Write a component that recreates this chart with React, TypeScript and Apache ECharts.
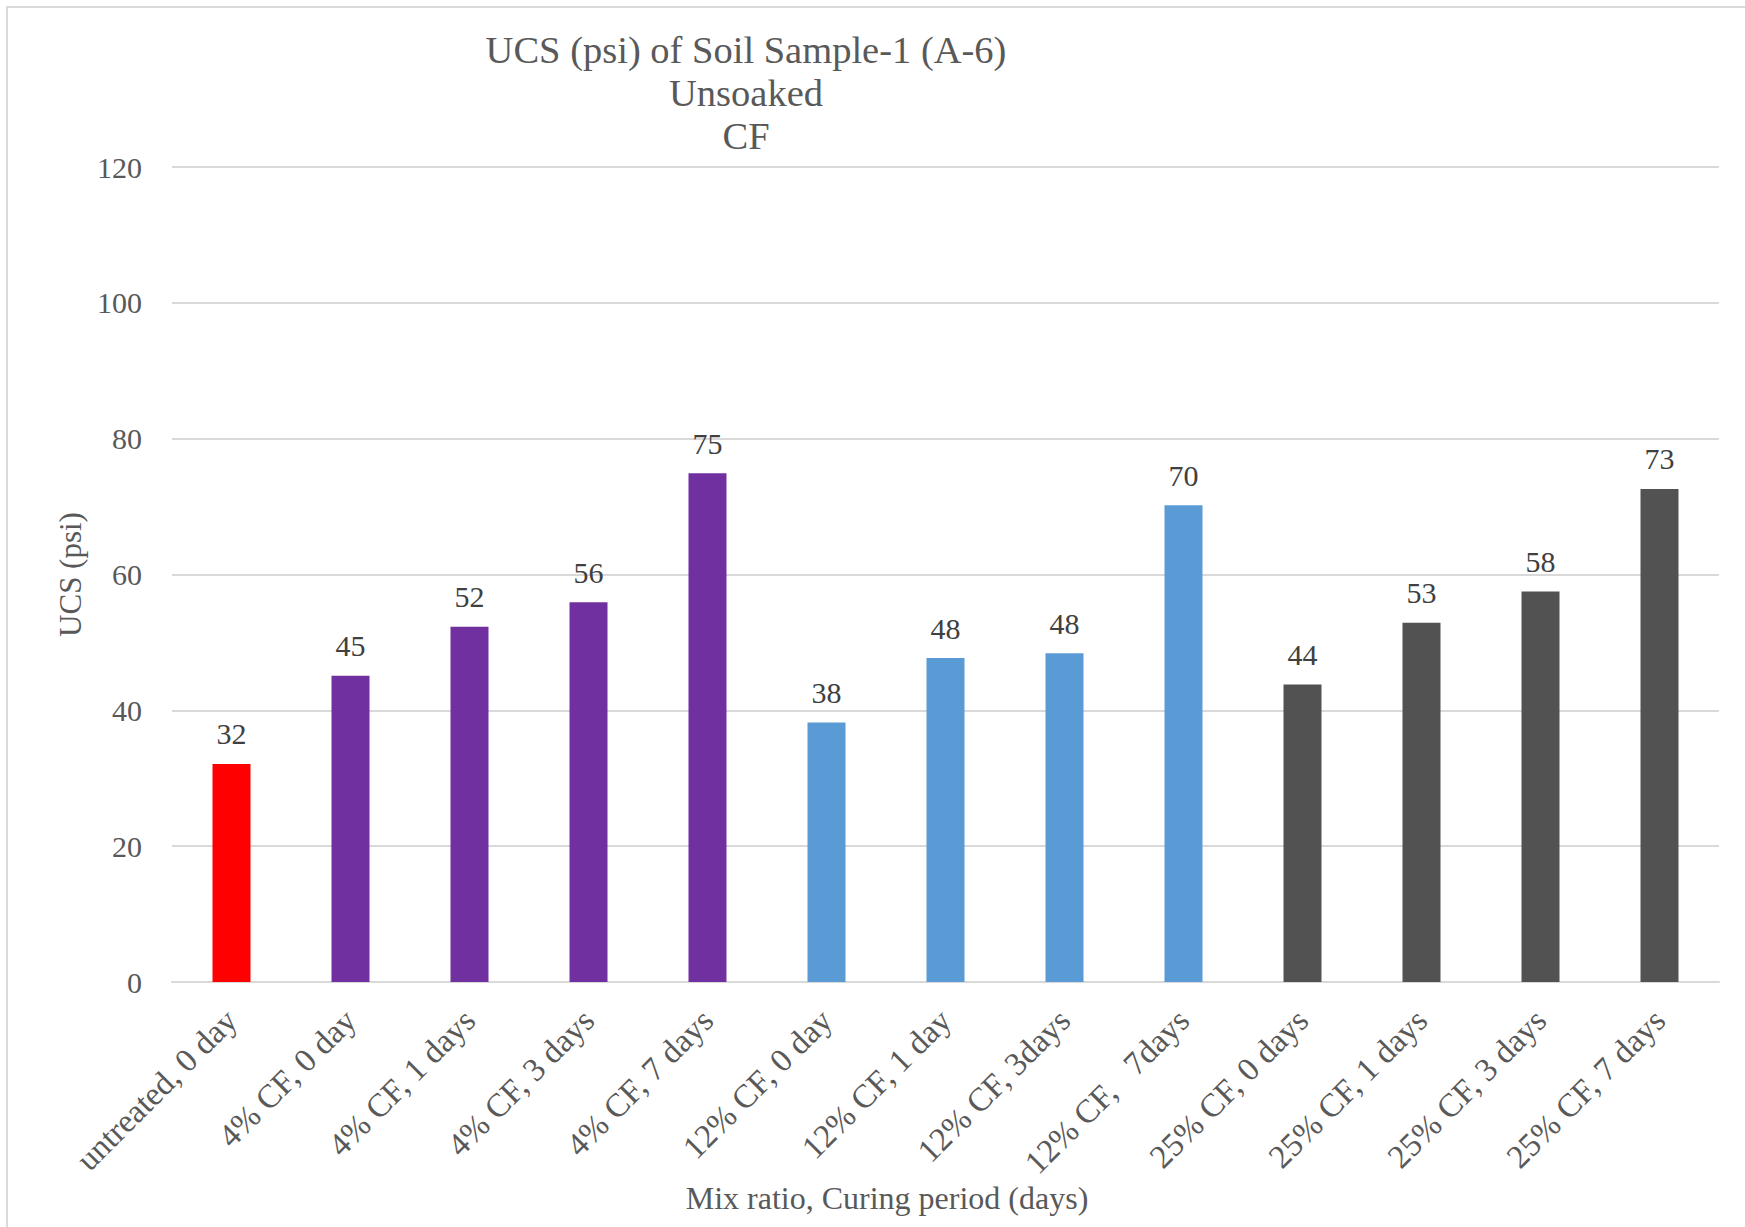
import React, { useEffect, useRef } from "react";
import * as echarts from "echarts";

const categories = [
  "untreated, 0 day",
  "4% CF, 0 day",
  "4% CF, 1 days",
  "4% CF, 3 days",
  "4% CF, 7 days",
  "12% CF, 0 day",
  "12% CF, 1 day",
  "12% CF, 3days",
  "12% CF,   7days",
  "25% CF, 0 days",
  "25% CF, 1 days",
  "25% CF, 3 days",
  "25% CF, 7 days",
];

const ucsValues = [32.1, 45.1, 52.3, 55.9, 74.9, 38.2, 47.7, 48.4, 70.2, 43.8, 52.9, 57.5, 72.6];

const barColors = [
  "#FF0000",
  "#7030A0", "#7030A0", "#7030A0", "#7030A0",
  "#5B9BD5", "#5B9BD5", "#5B9BD5", "#5B9BD5",
  "#525252", "#525252", "#525252", "#525252",
];

const yTicks = { min: 0, max: 120, interval: 20 };

const titleText = "UCS (psi) of Soil Sample-1 (A-6)\nUnsoaked\nCF";
const yName = "UCS (psi)";
const xName = "Mix ratio, Curing period (days)";

const FONT = '"Liberation Serif", "Times New Roman", serif';

export default function App() {
  const ref = useRef<HTMLDivElement>(null);
  useEffect(() => {
    if (!ref.current) return;
    const chart = echarts.init(ref.current, undefined, { renderer: "svg" });
    chart.setOption({
      animation: false,
      backgroundColor: "#ffffff",
      textStyle: { fontFamily: FONT },
      title: {
        text: titleText,
        left: 741,
        top: 23,
        textAlign: "center",
        textStyle: {
          fontFamily: FONT,
          fontSize: 38.5,
          fontWeight: "normal",
          color: "#595959",
          lineHeight: 43,
        },
      },
      grid: { left: 172, right: 26, top: 167, bottom: 245, containLabel: false },
      xAxis: {
        type: "category",
        data: categories,
        axisTick: { show: false },
        axisLine: { lineStyle: { color: "#d9d9d9", width: 2 } },
        axisLabel: {
          rotate: 45,
          interval: 0,
          margin: 33,
          color: "#595959",
          fontFamily: FONT,
          fontSize: 33,
        },
      },
      yAxis: {
        type: "value",
        min: yTicks.min,
        max: yTicks.max,
        interval: yTicks.interval,
        name: yName,
        nameLocation: "middle",
        nameGap: 84,
        nameTextStyle: { color: "#595959", fontFamily: FONT, fontSize: 31 },
        axisLine: { show: false },
        axisTick: { show: false },
        axisLabel: { color: "#595959", fontFamily: FONT, fontSize: 30, margin: 30 },
        splitLine: { lineStyle: { color: "#d9d9d9", width: 2 } },
      },
      graphic: [
        {
          type: "rect",
          shape: { x: 7, y: 7, width: 2000, height: 2000 },
          style: { fill: "none", stroke: "#d9d9d9", lineWidth: 2 },
          silent: true,
        },
        {
          type: "text",
          x: 887,
          y: 1198,
          style: {
            text: xName,
            fill: "#595959",
            font: `32px ${FONT}`,
            textAlign: "center",
            textVerticalAlign: "middle",
          },
        },
      ],
      series: [
        {
          type: "bar",
          barWidth: 38,
          data: ucsValues.map((v, i) => ({ value: v, itemStyle: { color: barColors[i] } })),
          label: {
            show: true,
            position: "top",
            distance: 15,
            color: "#404040",
            fontFamily: FONT,
            fontSize: 30,
            formatter: (p: any) => String(Math.round(p.value)),
          },
        },
      ],
    });
    return () => chart.dispose();
  }, []);
  return (
    <div
      ref={ref}
      style={{ position: "fixed", left: 0, top: 0, width: 1745, height: 1227 }}
    />
  );
}
